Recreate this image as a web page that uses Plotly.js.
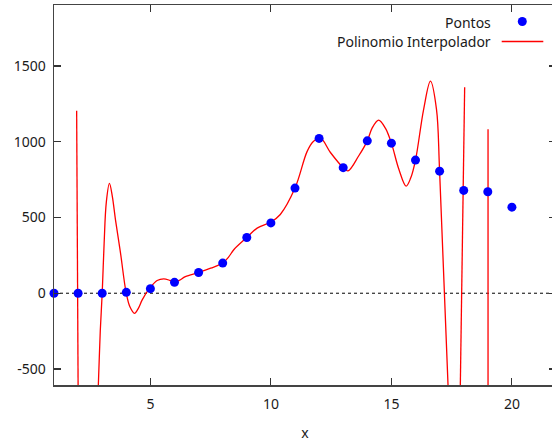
<!DOCTYPE html>
<html><head><meta charset="utf-8">
<script src="https://cdn.plot.ly/plotly-3.0.1.min.js"></script>
<style>html,body{margin:0;padding:0;overflow:hidden;background:#fff}#chart{width:560px;height:443px}</style>
</head><body><div id="chart"></div>
<script>
// Data points
var pointX = [1,2,3,4,5,6,7,8,9,10,11,12,13,14,15,16,17,18,19,20];
var pointY = [0,0,0,6,30,72,137,199,368,464,694,1022,829,1006,991,879,806,679,670,568];

// Interpolating polynomial, smooth part
var curveX = [2.78,2.84,2.92,3.0,3.08,3.17,3.3,3.42,3.55,3.76,3.99,4.15,4.34,4.5,4.66,4.97,5.28,5.55,5.8,5.98,6.2,6.45,7.0,7.5,8.0,8.25,8.46,9.0,9.43,10.0,10.39,11.0,11.5,11.75,12.05,12.47,13.0,13.2,13.64,14.0,14.2,14.47,14.75,15.0,15.31,15.61,15.8,16.0,16.34,16.62,16.87,17.0,17.45];
var curveY = [-836,-606,-250,0,330,600,725,640,486,265,7,-90,-133,-100,-44,33,84,95,85,73,85,110,137,165,199,240,287,368,430,470,520,694,935,1000,1025,929,829,808,906,1006,1090,1143,1090,991,818,707,760,879,1216,1400,1216,806,-1010];

// Sampling spikes of the polynomial near the ends
var spikeX = [1.94,2.02,null,17.82,18.04,null,19.01,19.01,19.01];
var spikeY = [1205,-1200,null,-1043,1360,null,-3000,1083,-3000];

var xTicks = [5,10,15,20];
var yTicks = [-500,0,500,1000,1500];

var legendNames = ['Pontos','Polinomio Interpolador'];

var font = {family:'Noto Sans, sans-serif', size:14, color:'#1a1a1a'};

var traces = [
  {x:curveX, y:curveY, mode:'lines', line:{color:'#ff0000', width:1.3, shape:'spline'}, hoverinfo:'skip', showlegend:false},
  {x:spikeX, y:spikeY, mode:'lines', line:{color:'#ff0000', width:1.3}, connectgaps:false, hoverinfo:'skip', showlegend:false},
  {x:pointX, y:pointY, mode:'markers', marker:{color:'#0000ff', size:9}, cliponaxis:false, showlegend:false}
];

var W = 560, H = 443, L = 54, R = 4, T = 5, B = 58;
var pw = W - L - R, ph = H - T - B;
function px(p){return (p - L)/pw;}
function py(p){return 1 - (p - T)/ph;}

var layout = {
  width: W, height: H,
  margin: {l:L, r:R, t:T, b:B, pad:0},
  paper_bgcolor:'#fff', plot_bgcolor:'#fff',
  font: font,
  showlegend:false,
  xaxis: {
    range:[1, 21.83], tickvals:xTicks, ticktext:xTicks.map(String),
    ticks:'inside', ticklen:7, tickwidth:1.2, tickcolor:'#333',
    showline:true, linecolor:'#444', linewidth:1.5, mirror:'ticks',
    showgrid:false, zeroline:false, ticklabelstandoff:6,
    title:{text:'x', font:font, standoff:16}
  },
  yaxis: {
    range:[-606, 1903], tickvals:yTicks, ticktext:yTicks.map(String),
    ticks:'inside', ticklen:7, tickwidth:1.2, tickcolor:'#333',
    showline:true, linecolor:'#444', linewidth:1.5, mirror:'ticks',
    showgrid:false, zeroline:false, ticklabelstandoff:4
  },
  shapes: [
    {type:'line', xref:'paper', yref:'y', x0:0, x1:1, y0:0, y1:0, line:{color:'#000', width:1, dash:'dot'}, layer:'below'},
    {type:'line', xref:'paper', yref:'paper', x0:px(501.7), x1:px(543.3), y0:py(41.5), y1:py(41.5), line:{color:'#ff0000', width:1.3}},
    {type:'circle', xref:'paper', yref:'paper', xsizemode:'pixel', ysizemode:'pixel', xanchor:px(522.3), yanchor:py(21.5), x0:-4.5, x1:4.5, y0:-4.5, y1:4.5, fillcolor:'#0000ff', line:{width:0}}
  ],
  annotations: [
    {text:legendNames[0], xref:'paper', yref:'paper', x:px(493), y:py(22), xanchor:'right', yanchor:'middle', showarrow:false, font:font},
    {text:legendNames[1], xref:'paper', yref:'paper', x:px(493), y:py(42), xanchor:'right', yanchor:'middle', showarrow:false, font:font}
  ]
};

Plotly.newPlot('chart', traces, layout, {displayModeBar:false, staticPlot:true});
</script></body></html>
